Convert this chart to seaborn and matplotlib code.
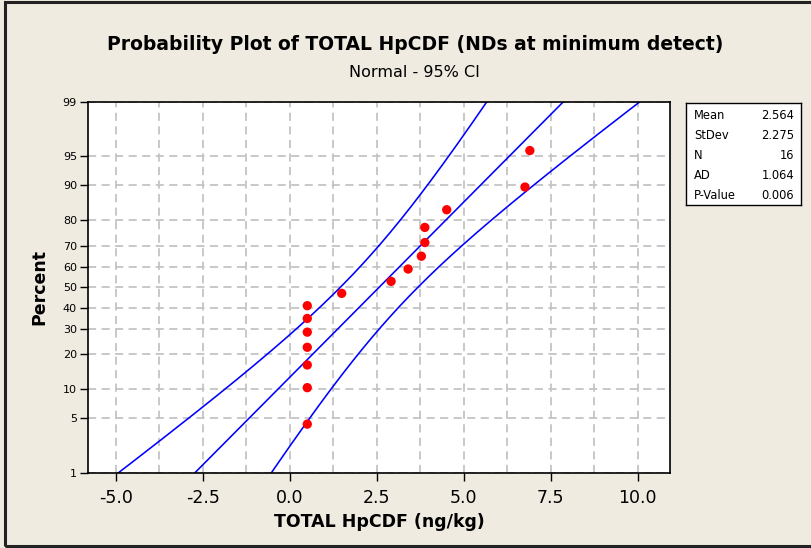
import numpy as np
import pandas as pd
import matplotlib
matplotlib.use("Agg")
import matplotlib.pyplot as plt
import seaborn as sns
from matplotlib.patches import Rectangle
from matplotlib.ticker import MultipleLocator
from statistics import NormalDist

# data
hpcdf = [0.50, 0.50, 0.50, 0.50, 0.50, 0.50, 0.50, 1.49, 2.91, 3.40, 3.78, 3.88, 3.88, 4.51, 6.76, 6.90]
percent = [4.3, 10.4, 16.5, 22.6, 28.7, 34.8, 40.9, 47.0, 53.0, 59.1, 65.2, 71.3, 77.4, 83.5, 89.6, 95.7]
stat_names = ["Mean", "StDev", "N", "AD", "P-Value"]
stat_values = ["2.564", "2.275", "16", "1.064", "0.006"]
mean, stdev, n = 2.564, 2.275, 16
y_ticks = [1, 5, 10, 20, 30, 40, 50, 60, 70, 80, 90, 95, 99]
x_ticks = [-5.0, -2.5, 0.0, 2.5, 5.0, 7.5, 10.0]

nd = NormalDist()
z = np.vectorize(lambda p: nd.inv_cdf(p / 100.0))

sns.set_theme(style="white")
plt.rcParams['font.family'] = ['DejaVu Sans']
plt.rcParams['text.color'] = 'black'
plt.rcParams['axes.labelcolor'] = 'black'
plt.rcParams['xtick.color'] = 'black'
plt.rcParams['ytick.color'] = 'black'

bg = '#EFEBE1'
fig = plt.figure(figsize=(8.12, 5.48), dpi=100, facecolor=bg)
ax = fig.add_axes([88 / 812, 1 - 472.7 / 548, (670 - 88) / 812, (472.7 - 102) / 548])
ax.set_facecolor('white')

# fitted normal line and 95% CI, from the table statistics
zz = np.linspace(-2.6, 2.6, 200)
fit = mean + stdev * zz
half = 1.96 * np.sqrt(stdev ** 2 / n + zz ** 2 * stdev ** 2 / (2 * (n - 1)))
lines = pd.DataFrame({
    'x': np.concatenate([fit - half, fit, fit + half]),
    'z': np.concatenate([zz, zz, zz]),
    'line': ['lo'] * len(zz) + ['fit'] * len(zz) + ['hi'] * len(zz),
})
sns.lineplot(data=lines, x='x', y='z', units='line', estimator=None, sort=False,
             color='#0000FF', linewidth=1.15, ax=ax)

pts = pd.DataFrame({'x': hpcdf, 'z': z(percent)})
sns.scatterplot(data=pts, x='x', y='z', color='#FF0000', s=45, edgecolor='none',
                ax=ax, zorder=5)

ax.set_xlim(-5.805, 10.93)
ax.set_ylim(float(z(1)), float(z(99)))
ax.set_xticks(x_ticks)
ax.set_xticklabels([f"{v:.1f}" for v in x_ticks])
ax.xaxis.set_minor_locator(MultipleLocator(1.25))
ax.set_yticks(z(y_ticks))
ax.set_yticklabels([str(v) for v in y_ticks])

grid_kw = dict(color='#C4C4C4', linestyle=(0, (4.5, 3)), linewidth=1.3)
ax.grid(True, which='both', axis='x', **grid_kw)
ax.grid(True, which='major', axis='y', **grid_kw)
ax.set_axisbelow(True)
ax.tick_params(axis='x', which='major', direction='out', length=6, width=1,
               labelsize=12.5, pad=6, bottom=True)
ax.tick_params(axis='x', which='minor', length=0)
ax.tick_params(axis='y', direction='out', length=6, width=1,
               labelsize=8, pad=2, left=True)
for s in ax.spines.values():
    s.set_color('black')
    s.set_linewidth(1.2)

ax.set_xlabel('TOTAL HpCDF (ng/kg)', fontsize=12.5, fontweight='bold', labelpad=4)
ax.set_ylabel('Percent', fontsize=12.5, fontweight='bold', labelpad=10)

fig.text(415 / 812, 1 - 45 / 548, 'Probability Plot of TOTAL HpCDF (NDs at minimum detect)',
         ha='center', va='center', fontsize=13.5, fontweight='bold')
fig.text(414 / 812, 1 - 72 / 548, 'Normal - 95% CI', ha='center', va='center', fontsize=11.5)

# statistics box
bx = fig.add_axes([686 / 812, 1 - 205 / 548, 115 / 812, 102 / 548])
bx.set_facecolor('white')
bx.set_xticks([])
bx.set_yticks([])
for s in bx.spines.values():
    s.set_color('black')
    s.set_linewidth(1.0)
for i, (name, val) in enumerate(zip(stat_names, stat_values)):
    yy = 1 - (0.127 + 0.196 * i)
    bx.text(0.07, yy, name, ha='left', va='center', fontsize=8.3, transform=bx.transAxes)
    bx.text(0.94, yy, val, ha='right', va='center', fontsize=8.3, transform=bx.transAxes)

fig.patches.append(Rectangle((5 / 812, 2 / 548), 1.0, 544 / 548, transform=fig.transFigure,
                             fill=False, edgecolor='#222222', linewidth=2.2))

fig.savefig('out.png', dpi=100, facecolor=bg)
plt.close(fig)
